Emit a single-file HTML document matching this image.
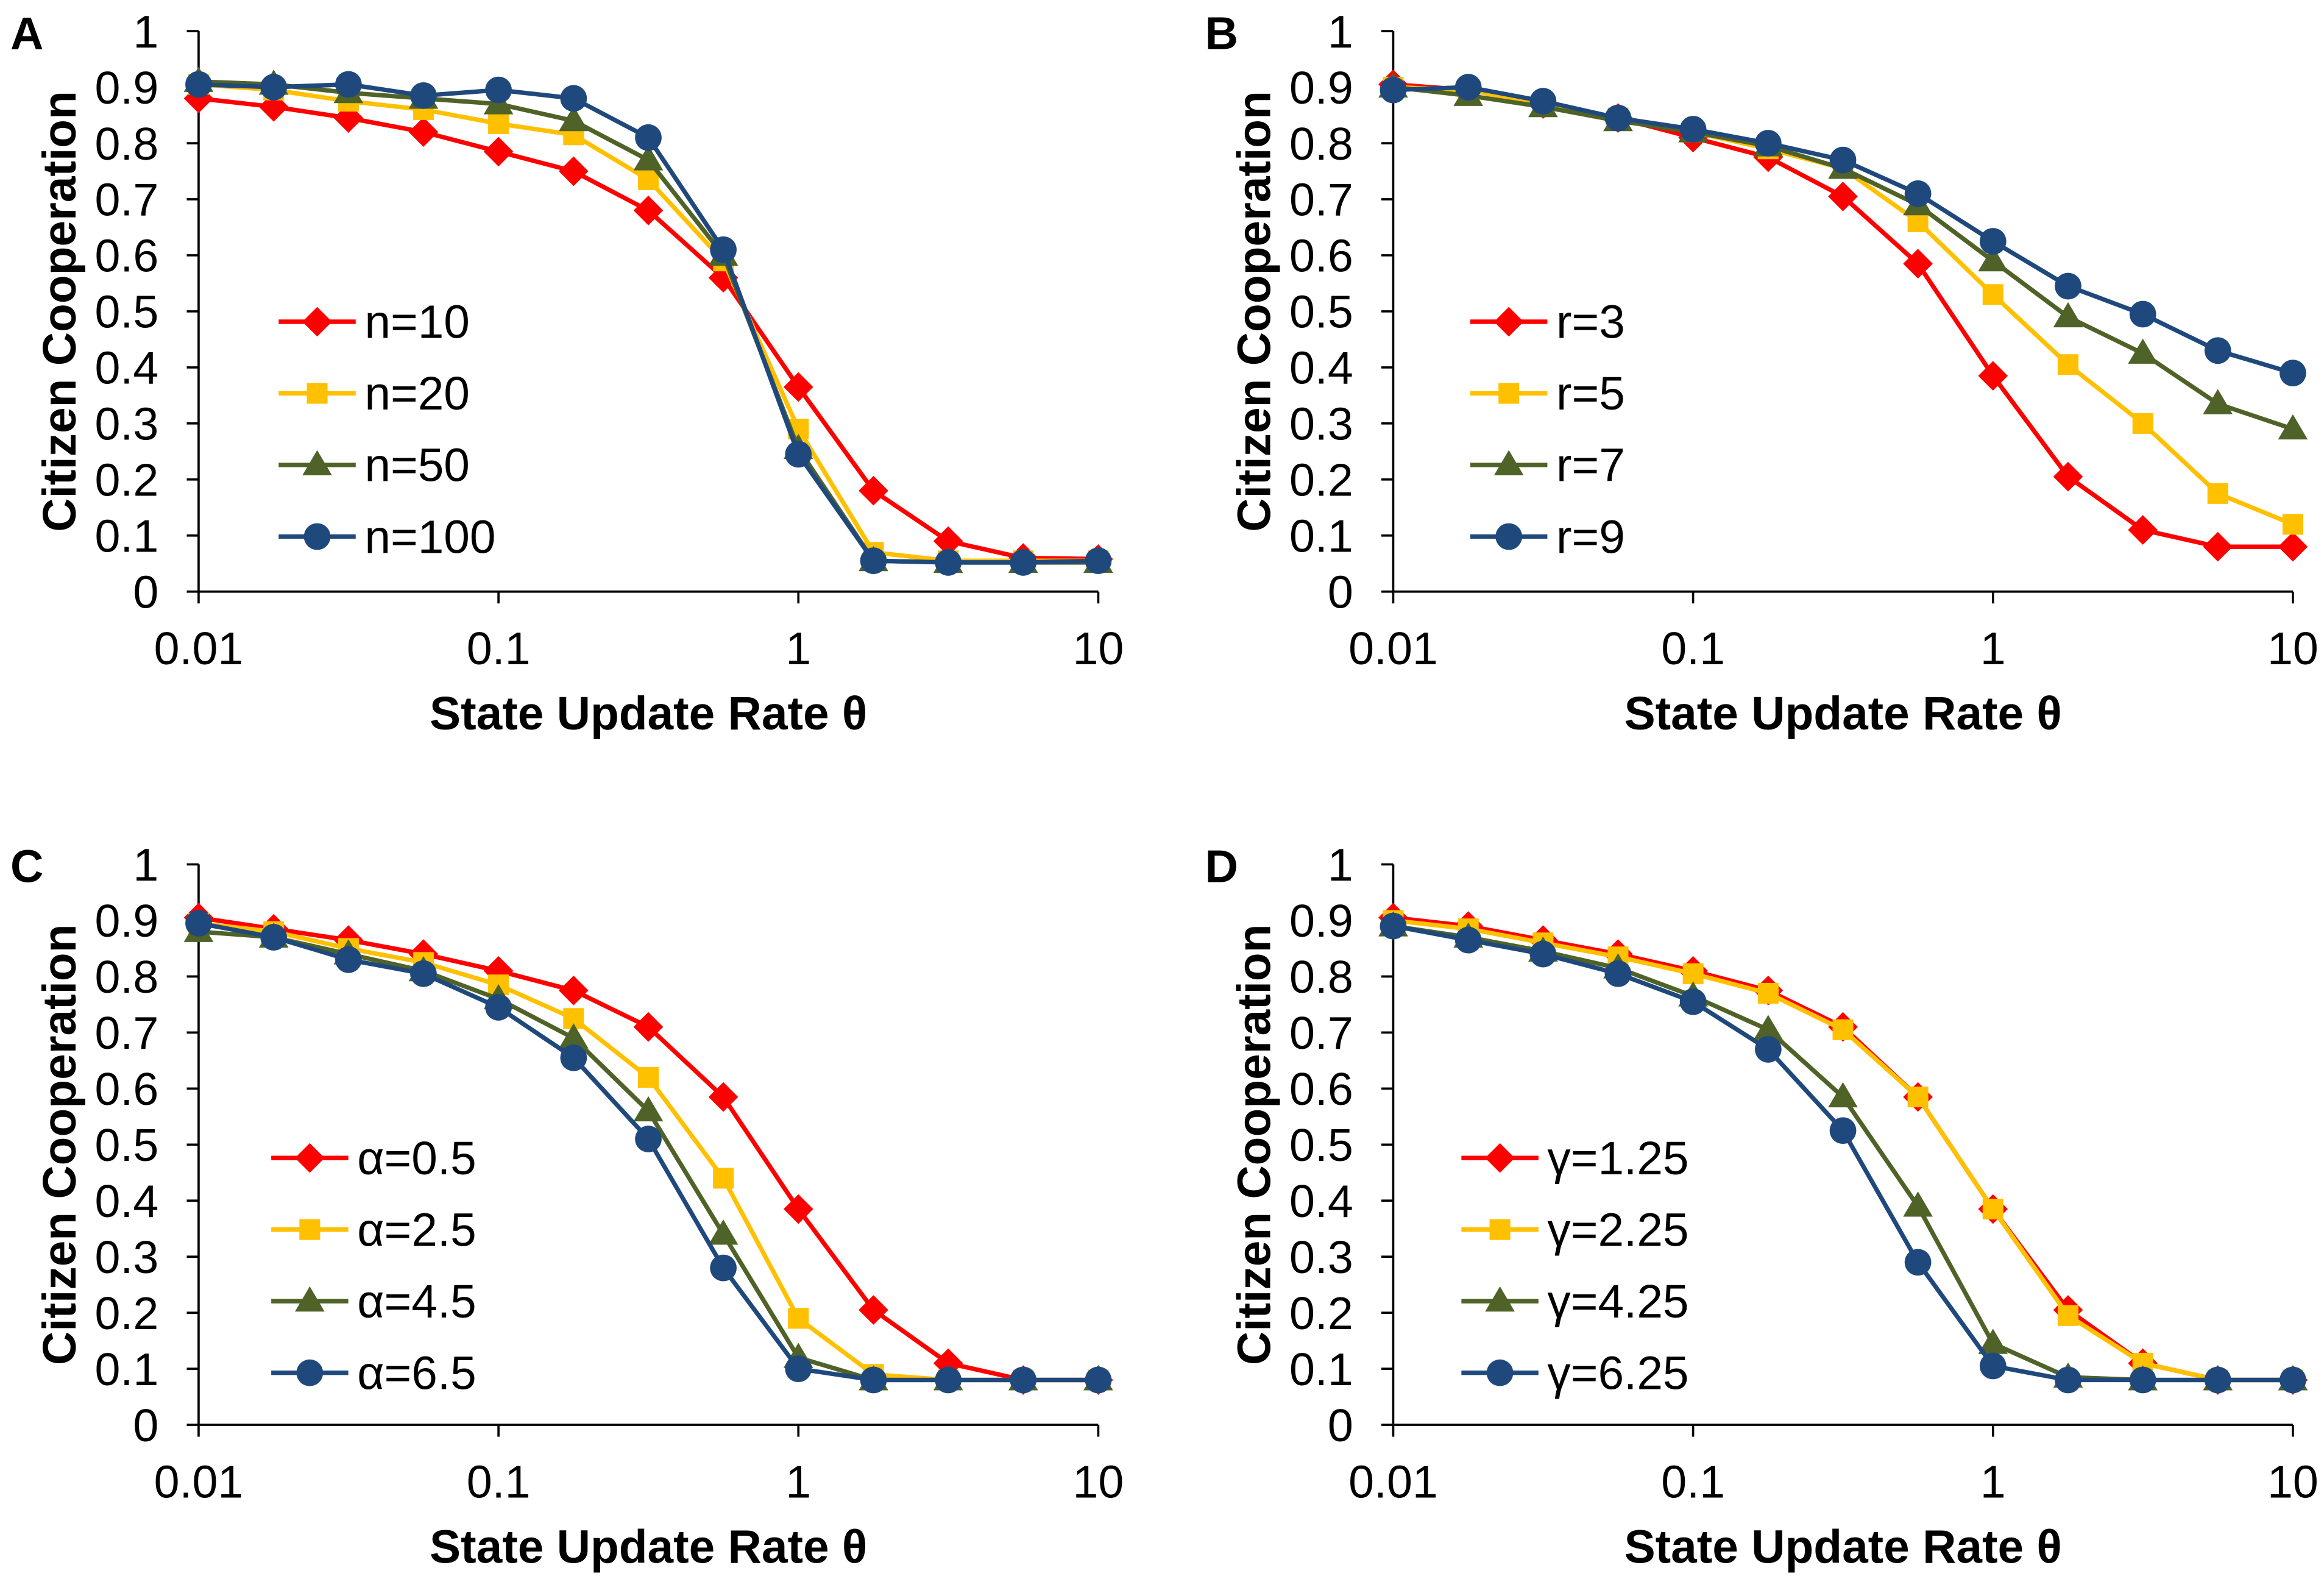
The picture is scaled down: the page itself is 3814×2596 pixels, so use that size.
<!DOCTYPE html>
<html><head><meta charset="utf-8"><style>
html,body{margin:0;padding:0;background:#fff}
svg{display:block;font-family:"Liberation Sans",Arial,sans-serif}
</style></head><body>
<svg id="chart" width="3814" height="2596" viewBox="0 0 1568 1067" preserveAspectRatio="none" xmlns="http://www.w3.org/2000/svg"></svg>
<script>
const xVals=[0.01,0.0178,0.0316,0.0562,0.1,0.178,0.316,0.562,1,1.78,3.16,5.62,10];
const yTicks=[0,0.1,0.2,0.3,0.4,0.5,0.6,0.7,0.8,0.9,1];
const yTickLabels=["0","0.1","0.2","0.3","0.4","0.5","0.6","0.7","0.8","0.9","1"];
const xTicks=[0.01,0.1,1,10];
const xTickLabels=["0.01","0.1","1","10"];
const panelLetters=["A","B","C","D"];
const labelsA=["n=10","n=20","n=50","n=100"];
const labelsB=["r=3","r=5","r=7","r=9"];
const labelsC=["α=0.5","α=2.5","α=4.5","α=6.5"];
const labelsD=["γ=1.25","γ=2.25","γ=4.25","γ=6.25"];
const a1=[0.88,0.865,0.845,0.82,0.785,0.75,0.68,0.56,0.365,0.18,0.09,0.06,0.058];
const a2=[0.905,0.895,0.875,0.86,0.835,0.815,0.735,0.59,0.29,0.07,0.055,0.055,0.055];
const a3=[0.91,0.905,0.89,0.88,0.87,0.84,0.77,0.6,0.255,0.055,0.052,0.052,0.052];
const a4=[0.905,0.9,0.905,0.885,0.895,0.88,0.81,0.61,0.245,0.055,0.052,0.052,0.055];
const b1=[0.905,0.895,0.87,0.845,0.81,0.775,0.705,0.585,0.385,0.205,0.11,0.08,0.08];
const b2=[0.9,0.895,0.87,0.845,0.82,0.79,0.755,0.66,0.53,0.405,0.3,0.175,0.12];
const b3=[0.9,0.885,0.865,0.84,0.82,0.795,0.755,0.69,0.59,0.49,0.425,0.335,0.29];
const b4=[0.895,0.9,0.875,0.845,0.825,0.8,0.77,0.71,0.625,0.545,0.495,0.43,0.39];
const c1=[0.905,0.885,0.865,0.84,0.81,0.775,0.71,0.585,0.385,0.205,0.11,0.08,0.08];
const c2=[0.895,0.88,0.85,0.825,0.785,0.725,0.62,0.44,0.19,0.09,0.08,0.08,0.08];
const c3=[0.88,0.87,0.84,0.81,0.76,0.69,0.56,0.34,0.12,0.08,0.08,0.08,0.08];
const c4=[0.895,0.87,0.83,0.805,0.745,0.655,0.51,0.28,0.1,0.08,0.08,0.08,0.08];
const d1=[0.905,0.89,0.865,0.84,0.81,0.775,0.71,0.585,0.385,0.205,0.11,0.08,0.08];
const d2=[0.9,0.885,0.86,0.835,0.805,0.77,0.705,0.585,0.385,0.195,0.11,0.08,0.08];
const d3=[0.89,0.87,0.845,0.815,0.765,0.705,0.585,0.39,0.145,0.085,0.08,0.08,0.08];
const d4=[0.89,0.865,0.84,0.805,0.755,0.67,0.525,0.29,0.105,0.08,0.08,0.08,0.08];

const colors=["#FF0000","#FFC000","#4F6228","#1F497D"];
const markers=["diamond","square","triangle","circle"];
const panels=[
 {x0:134,x1:741,yb:399,yt:21,lx:188,ly:217,series:[a1,a2,a3,a4],labels:labelsA},
 {x0:940,x1:1547,yb:399,yt:21,lx:992,ly:217,series:[b1,b2,b3,b4],labels:labelsB},
 {x0:134,x1:741,yb:961,yt:583,lx:183,ly:781,series:[c1,c2,c3,c4],labels:labelsC},
 {x0:940,x1:1547,yb:961,yt:583,lx:986,ly:781,series:[d1,d2,d3,d4],labels:labelsD}
];
const NS="http://www.w3.org/2000/svg";
const svg=document.getElementById('chart');
function mk(tag,attrs,parent){const e=document.createElementNS(NS,tag);for(const k in attrs)e.setAttribute(k,attrs[k]);(parent||svg).appendChild(e);return e;}
function marker(type,cx,cy,col,g){
 let e;
 if(type==="diamond")e=mk('polygon',{points:`${cx},${cy-10} ${cx+10},${cy} ${cx},${cy+10} ${cx-10},${cy}`,fill:col},g);
 else if(type==="square")e=mk('rect',{x:cx-7,y:cy-7,width:14,height:14,fill:col},g);
 else if(type==="triangle")e=mk('polygon',{points:`${cx},${cy-10} ${cx+10},${cy+7} ${cx-10},${cy+7}`,fill:col},g);
 else e=mk('circle',{cx:cx,cy:cy,r:9,fill:col},g);
 return e;
}
panels.forEach((p,pi)=>{
 const xs=v=>p.x0+(Math.log10(v)+2)/3*(p.x1-p.x0);
 const ys=v=>p.yb-v*(p.yb-p.yt);
 const g=mk('g',{});
 
 
 const L=mk('text',{x:p.x0-127,y:p.yt+12,'font-size':31,'font-weight':'bold',fill:'#000'},g);
 L.textContent=panelLetters[pi];
 
 
 yTicks.forEach((t,i)=>{
  mk('line',{x1:p.x0-8,x2:p.x0,y1:ys(t),y2:ys(t),stroke:'#000','stroke-width':1.5},g);
  const tx=mk('text',{x:p.x0-27,y:ys(t)+11,'font-size':31,'text-anchor':'end',fill:'#000'},g);
  tx.textContent=yTickLabels[i];
  
  
 });
 xTicks.forEach((t,i)=>{
  mk('line',{x1:xs(t),x2:xs(t),y1:p.yb,y2:p.yb+8,stroke:'#000','stroke-width':1.5},g);
  const tx=mk('text',{x:xs(t),y:p.yb+49,'font-size':31,'text-anchor':'middle',fill:'#000'},g);
  tx.textContent=xTickLabels[i];
  
  
 });
 const ax=mk('path',{d:`M${p.x0},${p.yt} V${p.yb} H${p.x1}`,stroke:'#000','stroke-width':1.5,fill:'none'},g);
 
 
 const xt=mk('text',{x:(p.x0+p.x1)/2,y:p.yb+93,'font-size':31.5,'font-weight':'bold','text-anchor':'middle',fill:'#000'},g);
 xt.textContent='State Update Rate θ';
 
 
 const cyT=(p.yt+p.yb)/2;
 const yt=mk('text',{x:0,y:0,transform:`translate(${p.x0-83},${cyT}) rotate(-90)`,'font-size':31.5,'font-weight':'bold','text-anchor':'middle',fill:'#000'},g);
 yt.textContent='Citizen Cooperation';
 
 
 p.series.forEach((s,si)=>{
  const sg=mk('g',{},g);
  
  
  mk('polyline',{points:s.map((v,i)=>xs(xVals[i])+','+ys(v)).join(' '),fill:'none',stroke:colors[si],'stroke-width':3},sg);
  s.forEach((v,i)=>{const m=marker(markers[si],xs(xVals[i]),ys(v),colors[si],sg);
   
   });
  const lg=mk('g',{},g);
  
  
  const ly=p.ly+si*48.3;
  mk('line',{x1:p.lx,x2:p.lx+52,y1:ly,y2:ly,stroke:colors[si],'stroke-width':3},lg);
  marker(markers[si],p.lx+26,ly,colors[si],lg);
  const lt=mk('text',{x:p.lx+58,y:ly+11,'font-size':31.5,fill:'#000'},lg);
  lt.textContent=p.labels[si];
 });
});
</script>
</body></html>
